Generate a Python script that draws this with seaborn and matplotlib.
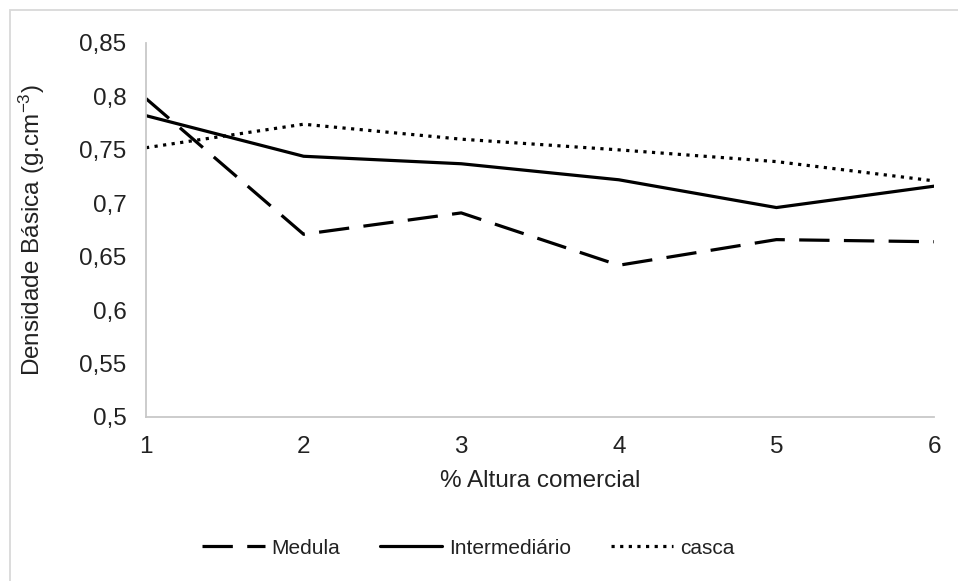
import matplotlib
matplotlib.use("Agg")
import matplotlib.pyplot as plt
import seaborn as sns
import pandas as pd
from matplotlib.patches import Rectangle
from matplotlib.lines import Line2D

x_vals = [1, 2, 3, 4, 5, 6]
medula = [0.798, 0.671, 0.691, 0.642, 0.666, 0.664]
intermediario = [0.782, 0.744, 0.737, 0.722, 0.696, 0.716]
casca = [0.752, 0.774, 0.760, 0.750, 0.739, 0.721]
y_ticks = [0.5, 0.55, 0.6, 0.65, 0.7, 0.75, 0.8, 0.85]
y_tick_labels = ["0,5", "0,55", "0,6", "0,65", "0,7", "0,75", "0,8", "0,85"]
series_names = ["Medula", "Intermediário", "casca"]

df = pd.DataFrame({
    "x": x_vals * 3,
    "y": medula + intermediario + casca,
    "serie": [series_names[0]] * 6 + [series_names[1]] * 6 + [series_names[2]] * 6,
})

sns.set_theme(style="white")
plt.rcParams['font.family'] = ['Liberation Sans', 'DejaVu Sans']
plt.rcParams['mathtext.fontset'] = 'custom'
plt.rcParams['mathtext.rm'] = 'Liberation Sans'
plt.rcParams['mathtext.it'] = 'Liberation Sans'

FS = 17.5
LFS = 15
TXT = "#222222"

fig = plt.figure(figsize=(9.58, 5.81), dpi=100)
ax = fig.add_axes([146 / 958, 1 - 417 / 581, (934 - 146) / 958, (417 - 43) / 581])

styles = {
    "Medula": (0, (9.5, 4.5)),
    "Intermediário": "-",
    "casca": (0, (1.0, 1.7)),
}
LW = 2.3
for name in series_names:
    sub = df[df["serie"] == name]
    sns.lineplot(data=sub, x="x", y="y", ax=ax, color="black", lw=LW,
                 linestyle=styles[name], legend=False, dash_capstyle="butt")

ax.set_xlim(1, 6)
ax.set_ylim(0.5, 0.85)
ax.set_xticks(x_vals)
ax.set_xticklabels([str(v) for v in x_vals], fontsize=FS, color=TXT)
ax.set_yticks(y_ticks)
ax.set_yticklabels(y_tick_labels, fontsize=FS, color=TXT)
ax.tick_params(axis="y", length=0, pad=14)
ax.tick_params(axis="x", length=0, pad=14)
for s in ["top", "right"]:
    ax.spines[s].set_visible(False)
for s in ["left", "bottom"]:
    ax.spines[s].set_color("#C8C8C8")
    ax.spines[s].set_linewidth(1.3)
ax.set_xlabel("% Altura comercial", fontsize=FS, color=TXT)
ax.set_ylabel("Densidade Básica (g.cm$^{-3}$)", fontsize=FS, color=TXT)
ax.xaxis.set_label_coords(0.5, -(481 - 417) / 374, transform=ax.transAxes)
ax.yaxis.set_label_coords(-(146 - 32) / 788, 0.5, transform=ax.transAxes)
ax.xaxis.label.set_va("center")
ax.yaxis.label.set_va("center")

handles = [Line2D([0], [0], color="black", lw=LW, linestyle=styles[n], dash_capstyle="butt")
           for n in series_names]
fig.legend(handles, series_names, loc="center", bbox_to_anchor=(0.489, 1 - 548 / 581),
           ncol=3, frameon=False, fontsize=LFS, handlelength=3.0, handletextpad=0.33,
           columnspacing=1.9, labelcolor=TXT)

fig.patches.append(Rectangle((9.5 / 958, -0.1), 1.2, 1 - 9.5 / 581 + 0.1,
                             transform=fig.transFigure, fill=False,
                             edgecolor="#D9D9D9", lw=1.3))

fig.savefig("out.png", dpi=100)
